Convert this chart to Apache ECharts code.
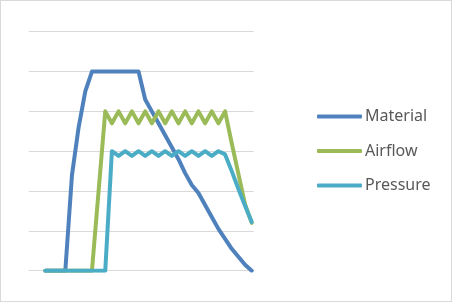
<!DOCTYPE html>
<html>
<head>
<meta charset="utf-8">
<script src="https://cdn.jsdelivr.net/npm/echarts@6/dist/echarts.min.js"></script>
<style>
html,body{margin:0;padding:0;background:#fff;}
#wrap{width:452px;height:302px;box-sizing:border-box;border:1px solid #D9D9D9;position:relative;}
#chart{position:absolute;left:-1px;top:-1px;width:452px;height:302px;}
</style>
</head>
<body>
<div id="wrap"><div id="chart"></div></div>
<script>
// sample index (x) for every reading
const samples = [0,1,2,3,4,5,6,7,8,9,10,11,12,13,14,15,16,17,18,19,20,21,22,23,24,25,26,27,28,29,30,31];
const seriesNames = ['Material', 'Airflow', 'Pressure'];
const material = [0,0,0,0,2.4,3.6,4.5,5,5,5,5,5,5,5,5,4.3,4.0,3.7,3.4,3.1,2.8,2.45,2.15,1.95,1.65,1.35,1.05,0.8,0.55,0.35,0.15,0];
const airflow  = [0,0,0,0,0,0,0,0,2.0,4,3.7,4,3.7,4,3.7,4,3.7,4,3.7,4,3.7,4,3.7,4,3.7,4,3.7,4,3.2,2.43,1.67,1.2];
const pressure = [0,0,0,0,0,0,0,0,0,0,3,2.88,3,2.88,3,2.88,3,2.88,3,2.88,3,2.88,3,2.88,3,2.88,3,2.92,2.5,2.05,1.63,1.22];
const colors = ['#4F81BD', '#9BBB59', '#4BACC6'];

const pairs = vals => samples.map((x, i) => [x, vals[i]]);
const allVals = [material, airflow, pressure];

const chart = echarts.init(document.getElementById('chart'), null, {renderer: 'canvas'});
chart.setOption({
  animation: false,
  backgroundColor: 'transparent',
  grid: {left: 28.7, top: 31.7, width: 225, height: 239, containLabel: false},
  xAxis: {
    type: 'value', min: -2.5, max: 31.3,
    axisLine: {show: false}, axisTick: {show: false}, axisLabel: {show: false}, splitLine: {show: false}
  },
  yAxis: {
    type: 'value', min: 0, max: 6, interval: 1,
    axisLine: {show: false}, axisTick: {show: false}, axisLabel: {show: false},
    splitLine: {show: true, lineStyle: {color: '#D9D9D9', width: 1}}
  },
  legend: {
    orient: 'vertical', left: 317, top: 106.5, padding: 0,
    itemWidth: 45, itemHeight: 4, itemGap: 14.5, icon: 'roundRect',
    textStyle: {fontFamily: 'Noto Sans', fontSize: 16, color: '#595959', lineHeight: 20, padding: [0, 0, 0, -2]},
    data: seriesNames
  },
  series: seriesNames.map((n, k) => ({
    name: n, type: 'line', data: pairs(allVals[k]), showSymbol: false, symbol: 'none',
    itemStyle: {color: colors[k]},
    lineStyle: {color: colors[k], width: 4, cap: 'round', join: 'round'}
  }))
});
</script>
</body>
</html>
